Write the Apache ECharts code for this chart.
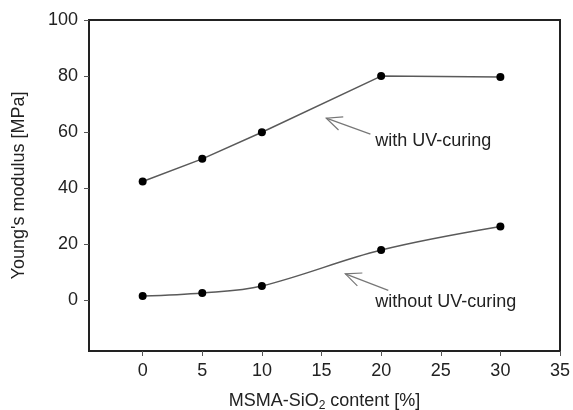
<!DOCTYPE html>
<html>
<head>
<meta charset="utf-8">
<script src="https://cdn.jsdelivr.net/npm/echarts@6/dist/echarts.min.js"></script>
<style>
  html, body { margin: 0; padding: 0; background: #fff; }
  #chart { width: 573px; height: 410px; }
</style>
</head>
<body>
<div id="chart"></div>
<script>
// MSMA-SiO2 filler content (%)
const content = [0, 5, 10, 20, 30];
// Young's modulus (MPa)
const withUV = [42.4, 50.5, 60.0, 80.0, 79.7];
const withoutUV = [1.6, 2.7, 5.2, 18.0, 26.4];
// Axis tick values
const xTicks = [0, 5, 10, 15, 20, 25, 30, 35];
const yTicks = [0, 20, 40, 60, 80, 100];

const FONT = 'Liberation Sans, Arial, sans-serif';
const TEXT = '#222';
const FS = 18;

const pairs = (ys) => content.map((x, i) => [x, ys[i]]);

const chart = echarts.init(document.getElementById('chart'), null, { renderer: 'canvas' });

chart.setOption({
  animation: false,
  grid: {
    left: 89, right: 13, top: 20, bottom: 59,
    outerBoundsMode: 'none', containLabel: false,
    show: true, borderColor: '#222', borderWidth: 2, backgroundColor: 'transparent'
  },
  xAxis: {
    type: 'value', min: -4.5, max: 35,
    name: 'MSMA-SiO{sub|2} content [%]',
    nameLocation: 'middle', nameGap: 40,
    nameTextStyle: {
      fontFamily: FONT, fontSize: FS, color: TEXT,
      rich: { sub: { fontFamily: FONT, fontSize: 12, color: TEXT, verticalAlign: 'bottom', padding: [9, 0, 0, 0] } }
    },
    splitLine: { show: false },
    axisLine: { show: true, onZero: false, lineStyle: { color: '#222', width: 2 } },
    axisTick: { show: true, customValues: xTicks, length: 5, lineStyle: { color: '#555' } },
    axisLabel: { customValues: xTicks, margin: 11, fontFamily: FONT, fontSize: FS, color: TEXT }
  },
  yAxis: {
    type: 'value', min: -18, max: 100,
    name: "Young's modulus [MPa]",
    nameLocation: 'middle', nameGap: 61, nameRotate: 90,
    nameTextStyle: { fontFamily: FONT, fontSize: FS, color: TEXT },
    splitLine: { show: false },
    axisLine: { show: true, onZero: false, lineStyle: { color: '#222', width: 2 } },
    axisTick: { show: true, customValues: yTicks, length: 5, lineStyle: { color: '#555' } },
    axisLabel: { customValues: yTicks, margin: 11, fontFamily: FONT, fontSize: FS, color: TEXT }
  },
  series: [
    {
      name: 'with UV-curing', type: 'line', data: pairs(withUV),
      symbol: 'circle', symbolSize: 8,
      itemStyle: { color: '#000' },
      lineStyle: { color: '#5a5a5a', width: 1.5 }
    },
    {
      name: 'without UV-curing', type: 'line', data: pairs(withoutUV),
      smooth: 0.35,
      symbol: 'circle', symbolSize: 8,
      itemStyle: { color: '#000' },
      lineStyle: { color: '#5a5a5a', width: 1.5 }
    }
  ]
});

// Annotation arrows (open heads) and labels, placed in data space
function arrow(tip, tail) {
  const p = chart.convertToPixel({ gridIndex: 0 }, tip);
  const q = chart.convertToPixel({ gridIndex: 0 }, tail);
  const ang = Math.atan2(q[1] - p[1], q[0] - p[0]);
  const len = 17, spread = 0.42;
  const b1 = [p[0] + len * Math.cos(ang - spread), p[1] + len * Math.sin(ang - spread)];
  const b2 = [p[0] + len * Math.cos(ang + spread), p[1] + len * Math.sin(ang + spread)];
  const style = { stroke: '#777', lineWidth: 1.2, fill: null };
  return [
    { type: 'polyline', shape: { points: [p, q] }, style },
    { type: 'polyline', shape: { points: [b1, p, b2] }, style }
  ];
}
function label(text, at) {
  const p = chart.convertToPixel({ gridIndex: 0 }, at);
  return {
    type: 'text', x: p[0], y: p[1],
    style: { text, fontFamily: FONT, fontSize: FS, fill: TEXT, align: 'left', verticalAlign: 'middle' }
  };
}

chart.setOption({
  graphic: [
    ...arrow([15.4, 65.0], [19.1, 59.3]),
    label('with UV-curing', [19.5, 56.8]),
    ...arrow([17.0, 9.5], [20.6, 3.6]),
    label('without UV-curing', [19.5, -0.6])
  ]
});
</script>
</body>
</html>
